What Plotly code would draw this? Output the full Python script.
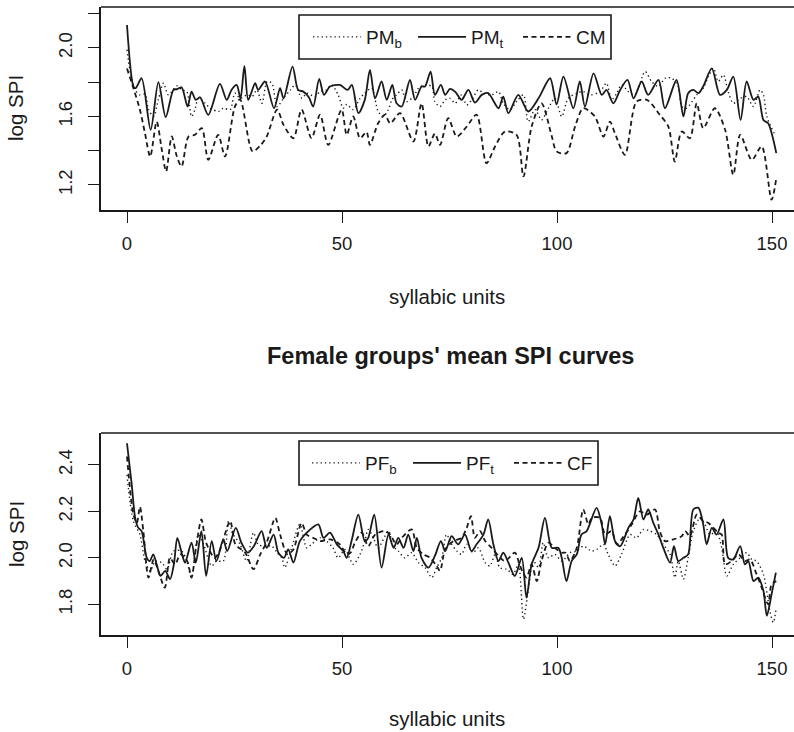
import plotly.graph_objects as go

# ---------------- Male panel (top) ----------------
pmt_x = [0, 1.5, 2.0, 3.4, 5.5, 7.3, 9.0, 10.8, 11.7, 12.7, 14.1, 15.0, 16.0, 17.0, 18.9, 21.6, 23.2, 24.3, 25.5, 26.4,
         27.3, 28.2, 29.8, 30.5, 32.1, 34.2, 35.6, 36.4, 38.5, 39.8, 41.0, 42.3, 43.3, 44.7, 45.8, 47.2, 49.5, 51.3, 52.3, 53.8,
         55.3, 56.5, 57.7, 59.2, 60.4, 61.7, 62.7, 63.9, 65.8, 67.0, 68.5, 69.3, 70.6, 71.6, 73.0, 74.0, 75.1, 76.3, 77.8, 79.4,
         80.9, 82.5, 84.0, 86.4, 87.5, 88.7, 91.0, 93.3, 95.7, 98.4, 99.9, 101.5, 103.8, 105.3, 106.5, 108.5, 110.4, 111.5, 113.1, 114.7,
         116.4, 117.8, 119.7, 121.2, 123.6, 125.1, 127.8, 129.4, 130.5, 131.7, 132.9, 134.0, 136.0, 137.9, 139.5, 141.0, 142.7, 144.1, 145.7, 146.8,
         148.0, 149.1, 151.0]
pmt_y = [2.134, 1.775, 1.765, 1.823, 1.522, 1.800, 1.596, 1.755, 1.760, 1.770, 1.658, 1.745, 1.697, 1.712, 1.609, 1.790, 1.697, 1.755, 1.784, 1.706,
         1.895, 1.697, 1.794, 1.755, 1.804, 1.648, 1.765, 1.706, 1.891, 1.755, 1.745, 1.712, 1.658, 1.819, 1.726, 1.775, 1.784, 1.755, 1.784, 1.619,
         1.697, 1.872, 1.706, 1.804, 1.697, 1.784, 1.677, 1.658, 1.813, 1.697, 1.775, 1.775, 1.862, 1.726, 1.784, 1.726, 1.761, 1.745, 1.697, 1.755,
         1.681, 1.726, 1.736, 1.648, 1.716, 1.619, 1.726, 1.629, 1.706, 1.823, 1.670, 1.833, 1.648, 1.804, 1.658, 1.852, 1.726, 1.755, 1.677, 1.755,
         1.813, 1.706, 1.804, 1.726, 1.813, 1.648, 1.813, 1.600, 1.736, 1.755, 1.736, 1.775, 1.881, 1.726, 1.755, 1.833, 1.580, 1.804, 1.697, 1.716,
         1.580, 1.560, 1.386]

cm_x = [0, 1.5, 3.0, 4.2, 5.4, 6.9, 8.1, 9.1, 10.4, 11.6, 12.7, 14.3, 15.8, 17.4, 18.9, 21.2, 22.8, 25.1, 26.3, 29.2,
        31.0, 32.5, 34.9, 36.4, 38.7, 40.6, 42.9, 44.9, 46.8, 49.9, 51.1, 52.6, 54.2, 55.7, 56.5, 58.4, 60.0, 61.2, 63.5, 66.6,
        68.5, 70.1, 71.6, 72.8, 74.7, 76.7, 79.0, 81.3, 83.6, 85.6, 87.9, 90.6, 92.2, 94.1, 96.4, 98.8, 99.9, 102.2, 104.2, 106.1,
        108.8, 110.8, 112.3, 113.5, 115.8, 118.5, 120.9, 123.9, 125.9, 127.4, 129.0, 130.9, 132.5, 134.0, 136.7, 139.1, 141.0, 142.6, 145.3, 147.6,
        149.9, 151.0]
cm_y = [1.880, 1.765, 1.640, 1.500, 1.366, 1.570, 1.405, 1.279, 1.483, 1.366, 1.308, 1.483, 1.493, 1.532, 1.347, 1.493, 1.366, 1.658, 1.700, 1.396,
        1.430, 1.483, 1.640, 1.551, 1.473, 1.640, 1.473, 1.610, 1.434, 1.640, 1.493, 1.600, 1.473, 1.510, 1.434, 1.560, 1.610, 1.560, 1.619, 1.454,
        1.677, 1.425, 1.500, 1.434, 1.590, 1.483, 1.541, 1.610, 1.327, 1.425, 1.512, 1.493, 1.250, 1.541, 1.677, 1.483, 1.396, 1.386, 1.541, 1.648,
        1.600, 1.483, 1.570, 1.500, 1.376, 1.687, 1.697, 1.610, 1.541, 1.337, 1.512, 1.473, 1.677, 1.532, 1.648, 1.522, 1.259, 1.493, 1.347, 1.425,
        1.114, 1.240]

pmb_x = [0, 0.7, 1.9, 3.0, 4.2, 5.0, 6.2, 7.3, 8.5, 9.6, 11.6, 12.7, 13.9, 15.0, 15.8, 16.6, 18.2, 19.3, 21.3, 22.4,
         24.0, 25.1, 26.3, 28.0, 29.1, 30.2, 31.4, 32.6, 33.7, 34.9, 36.4, 38.0, 39.1, 40.7, 41.8, 43.7, 44.9, 46.4, 47.6, 49.1,
         50.3, 51.1, 52.6, 54.2, 55.3, 56.9, 58.4, 59.6, 60.8, 61.6, 62.7, 63.9, 65.0, 66.6, 67.8, 69.3, 70.9, 71.6, 72.8, 74.0,
         75.1, 76.3, 77.8, 79.0, 80.2, 81.7, 82.9, 84.8, 86.4, 87.5, 89.1, 90.6, 92.2, 93.3, 94.9, 96.4, 98.0, 99.5, 101.1, 102.6,
         104.6, 106.1, 107.7, 110.0, 111.5, 112.7, 113.9, 115.0, 116.6, 118.1, 120.5, 122.0, 123.6, 125.1, 126.7, 128.2, 129.0, 130.1, 132.5, 134.0,
         135.2, 136.4, 137.5, 138.7, 139.8, 141.0, 142.6, 144.1, 145.7, 147.2, 148.0, 148.8, 150.5]
pmb_y = [1.990, 1.870, 1.755, 1.726, 1.730, 1.640, 1.600, 1.700, 1.794, 1.726, 1.778, 1.755, 1.745, 1.600, 1.640, 1.706, 1.677, 1.648, 1.630, 1.648,
         1.640, 1.736, 1.706, 1.726, 1.716, 1.755, 1.677, 1.804, 1.794, 1.658, 1.706, 1.755, 1.784, 1.706, 1.736, 1.716, 1.745, 1.755, 1.784, 1.726,
         1.648, 1.670, 1.640, 1.706, 1.736, 1.765, 1.629, 1.600, 1.640, 1.697, 1.726, 1.755, 1.687, 1.716, 1.765, 1.784, 1.775, 1.687, 1.658, 1.697,
         1.706, 1.677, 1.726, 1.667, 1.697, 1.755, 1.736, 1.726, 1.745, 1.677, 1.640, 1.687, 1.726, 1.570, 1.640, 1.580, 1.648, 1.706, 1.600, 1.706,
         1.736, 1.745, 1.726, 1.745, 1.794, 1.697, 1.736, 1.784, 1.745, 1.726, 1.862, 1.804, 1.775, 1.823, 1.823, 1.775, 1.658, 1.648, 1.726, 1.765,
         1.833, 1.881, 1.804, 1.843, 1.745, 1.677, 1.706, 1.716, 1.658, 1.755, 1.726, 1.600, 1.502]

# ---------------- Female panel (bottom) ----------------
pft_x = [0, 1.1, 1.9, 2.6, 3.4, 4.6, 5.3, 6.1, 6.9, 7.8, 8.9, 10.0, 10.9, 11.7, 12.8, 13.5, 15.0, 16.0, 17.3, 18.4,
         19.7, 20.8, 22.4, 23.3, 25.3, 26.6, 28.1, 29.5, 31.3, 32.5, 34.1, 35.2, 36.5, 37.5, 38.7, 40.2, 42.2, 44.5, 45.7, 47.2,
         48.8, 50.3, 51.1, 52.3, 53.8, 55.3, 56.1, 57.5, 59.2, 60.8, 62.0, 63.1, 64.3, 65.4, 66.6, 67.4, 68.5, 70.1, 71.6, 73.0,
         74.0, 75.5, 77.0, 78.6, 80.1, 81.3, 82.9, 84.0, 85.2, 86.4, 87.5, 88.7, 90.2, 91.8, 92.9, 94.1, 95.7, 97.2, 98.8, 100.3,
         101.1, 102.2, 103.4, 104.6, 105.7, 106.9, 109.2, 110.4, 111.2, 112.3, 113.5, 114.7, 116.6, 117.8, 118.9, 120.1, 121.2, 122.4, 123.6, 124.7,
         126.3, 127.2, 128.2, 129.4, 130.5, 131.7, 132.9, 134.0, 134.8, 136.0, 137.1, 138.7, 139.8, 141.0, 142.6, 143.7, 144.5, 145.7, 146.8, 148.0,
         148.8, 149.9, 150.9]
pft_y = [2.493, 2.315, 2.172, 2.130, 2.115, 2.000, 1.986, 2.015, 1.972, 1.922, 1.944, 1.908, 1.972, 2.086, 2.015, 1.979, 2.065, 1.979, 2.115, 1.922,
         2.072, 1.986, 2.079, 2.029, 2.129, 2.065, 2.022, 2.050, 2.115, 2.043, 2.100, 2.022, 2.000, 2.036, 1.979, 2.072, 2.115, 2.144, 2.086, 2.108,
         2.058, 2.029, 2.000, 2.079, 2.186, 2.072, 2.086, 2.186, 1.958, 2.100, 2.043, 2.086, 2.043, 2.100, 2.029, 2.086, 2.000, 1.958, 2.008, 2.072,
         2.029, 2.093, 2.058, 2.100, 2.029, 2.058, 2.100, 2.165, 2.058, 1.986, 2.022, 1.979, 1.922, 2.000, 1.829, 1.972, 2.043, 2.172, 2.043, 2.043,
         2.000, 1.900, 1.986, 2.015, 2.100, 2.115, 2.215, 2.144, 2.058, 2.179, 2.072, 2.050, 2.129, 2.165, 2.258, 2.165, 2.208, 2.150, 2.100, 2.044,
         1.979, 2.050, 1.986, 2.000, 2.015, 2.208, 2.215, 2.144, 2.058, 2.129, 2.100, 2.165, 2.000, 1.993, 2.050, 1.972, 1.986, 1.900, 1.915, 1.858,
         1.751, 1.843, 1.936]

cf_x = [0, 1.5, 2.3, 3.0, 3.8, 5.0, 6.2, 7.3, 8.8, 10.0, 11.2, 12.4, 14.0, 15.0, 16.0, 17.3, 18.4, 20.4, 21.5, 24.0,
        25.2, 27.5, 29.4, 31.0, 32.6, 34.5, 35.6, 37.3, 38.7, 40.6, 41.8, 43.3, 44.9, 47.2, 49.5, 51.1, 52.0, 53.0, 54.6, 56.1,
        57.7, 60.0, 61.2, 62.7, 63.9, 66.2, 67.4, 68.9, 70.5, 72.0, 72.8, 74.0, 75.9, 77.8, 79.0, 80.0, 80.9, 82.1, 83.3, 84.8,
        86.4, 87.9, 90.2, 91.4, 92.9, 94.1, 95.3, 96.4, 98.0, 99.5, 101.1, 102.0, 103.0, 104.6, 106.1, 107.3, 108.1, 110.0, 111.2, 112.7,
        113.9, 115.8, 117.4, 119.3, 120.9, 122.8, 123.9, 125.1, 127.0, 129.0, 129.8, 130.9, 132.5, 134.0, 135.2, 136.4, 137.5, 138.3, 139.1, 140.6,
        142.2, 143.7, 144.9, 146.4, 147.6, 149.1, 149.9, 151.0]
cf_y = [2.436, 2.186, 2.150, 2.220, 2.115, 1.915, 1.993, 1.943, 1.872, 2.000, 1.972, 2.015, 1.986, 1.915, 2.036, 2.165, 2.065, 2.000, 2.029, 2.158,
        2.058, 2.022, 1.951, 2.015, 2.072, 2.172, 2.100, 2.015, 2.036, 2.150, 2.100, 2.086, 2.072, 2.079, 2.058, 2.015, 2.022, 2.065, 2.108, 2.050,
        2.100, 2.115, 2.100, 2.058, 2.086, 2.122, 2.043, 2.015, 2.000, 1.965, 1.944, 2.036, 2.072, 2.086, 2.129, 2.179, 2.086, 2.115, 2.072, 2.043,
        2.008, 1.986, 2.022, 1.965, 1.915, 1.972, 1.900, 1.986, 2.065, 2.043, 2.022, 2.022, 1.986, 2.043, 2.208, 2.144, 2.172, 2.172, 2.100, 2.115,
        2.058, 2.100, 2.144, 2.200, 2.186, 2.208, 2.115, 2.072, 2.079, 2.093, 2.115, 2.093, 2.186, 2.158, 2.150, 2.129, 2.108, 2.100, 1.972, 1.986,
        2.015, 1.986, 1.993, 1.930, 1.872, 1.800, 1.886, 1.900]

pfb_x = [0, 1.5, 3.0, 4.2, 5.4, 6.6, 8.1, 9.3, 10.8, 12.7, 13.9, 15.0, 16.6, 17.8, 19.7, 20.8, 22.4, 23.6, 24.7, 26.3,
         27.8, 29.4, 30.5, 31.8, 33.7, 34.9, 36.0, 36.7, 38.3, 40.2, 41.8, 42.9, 44.9, 46.4, 47.9, 49.1, 50.7, 52.6, 54.2, 55.3,
         56.1, 57.3, 58.4, 60.8, 61.9, 63.1, 64.6, 66.2, 67.8, 69.3, 70.9, 72.0, 73.2, 74.3, 75.5, 76.7, 77.8, 79.0, 80.5, 81.7,
         83.3, 84.4, 85.6, 86.7, 88.3, 89.8, 91.0, 92.2, 93.3, 94.5, 95.7, 96.8, 98.0, 99.5, 101.1, 102.0, 103.0, 104.6, 106.1, 108.1,
         109.2, 110.8, 111.9, 113.5, 115.0, 117.0, 118.5, 120.1, 121.6, 123.2, 124.7, 126.3, 127.4, 128.2, 129.4, 130.5, 131.7, 133.3, 134.4, 135.6,
         137.1, 138.3, 139.5, 141.0, 142.6, 144.1, 145.3, 146.4, 148.0, 149.5, 150.3, 151.0]
pfb_y = [2.357, 2.157, 2.100, 1.986, 1.943, 1.986, 1.979, 1.951, 2.029, 2.029, 1.986, 1.915, 2.100, 2.058, 1.965, 1.986, 1.986, 2.158, 2.100, 2.058,
         1.986, 2.108, 2.058, 2.050, 2.050, 2.022, 2.000, 1.958, 2.043, 2.144, 2.043, 2.058, 2.086, 2.072, 2.043, 2.000, 2.036, 1.972, 2.015, 2.072,
         2.122, 2.086, 2.043, 2.115, 2.050, 2.029, 2.000, 2.022, 1.979, 1.958, 1.915, 1.958, 2.000, 2.100, 2.058, 2.029, 2.015, 2.058, 2.022, 2.043,
         1.979, 1.965, 2.015, 1.958, 1.951, 1.929, 1.972, 1.736, 1.858, 1.986, 1.958, 2.065, 2.000, 2.015, 1.986, 2.000, 2.022, 2.029, 2.050, 2.029,
         2.036, 2.058, 2.015, 1.965, 2.015, 2.100, 2.086, 2.122, 2.115, 2.100, 2.058, 2.015, 1.915, 1.986, 1.908, 2.000, 2.115, 2.172, 2.144, 2.100,
         2.115, 2.043, 1.922, 1.972, 2.000, 2.022, 1.993, 1.986, 1.929, 1.772, 1.722, 1.786]

x_ticks = [0, 50, 100, 150]
top_y_ticks = [1.2, 1.6, 2.0]
top_y_labels = ["1.2", "1.6", "2.0"]
top_y_minor = [1.4, 1.8, 2.2]
bot_y_ticks = [1.8, 2.0, 2.2, 2.4]
bot_y_labels = ["1.8", "2.0", "2.2", "2.4"]

W, H = 794, 732
FONT = "Liberation Sans, Arial, Helvetica, sans-serif"
INK = "#1a1a1a"

fig = go.Figure()

def add(x, y, name, dash, width, xa, ya, legend):
    fig.add_trace(go.Scatter(x=x, y=y, mode="lines", name=name,
                             line=dict(color=INK, width=width, dash=dash, shape="spline", smoothing=0.8),
                             xaxis=xa, yaxis=ya, legend=legend))

DOT = "1.3px,3px"
DASH = "5px,3.5px"
add(pmb_x, pmb_y, "PM<sub>b</sub>", DOT, 1.4, "x", "y", "legend")
add(pmt_x, pmt_y, "PM<sub>t</sub>", "solid", 1.8, "x", "y", "legend")
add(cm_x, cm_y, "CM", DASH, 1.8, "x", "y", "legend")
add(pfb_x, pfb_y, "PF<sub>b</sub>", DOT, 1.4, "x2", "y2", "legend2")
add(pft_x, pft_y, "PF<sub>t</sub>", "solid", 1.8, "x2", "y2", "legend2")
add(cf_x, cf_y, "CF", DASH, 1.8, "x2", "y2", "legend2")

px_per_unit = 4.3
x0_px = 127
left_px = 101
xr = [(left_px - x0_px) / px_per_unit, (W - x0_px) / px_per_unit]

def pdom(top_px, bot_px):
    return [1 - bot_px / H, 1 - top_px / H]

axis_common = dict(showline=True, linecolor=INK, linewidth=1.6, ticks="outside", ticklen=11,
                   tickwidth=1.4, tickcolor=INK, showgrid=False, zeroline=False,
                   ticklabeloverflow="allow", automargin=False,
                   tickfont=dict(family=FONT, size=18.5, color=INK))

fig.update_layout(
    width=W, height=H, margin=dict(l=0, r=0, t=0, b=0, autoexpand=False),
    paper_bgcolor="white", plot_bgcolor="white",
    xaxis=dict(domain=[left_px / W, 1], range=xr, tickvals=x_ticks, anchor="y",
               ticklabelstandoff=5, **axis_common),
    yaxis=dict(domain=pdom(7, 210), range=[1.054, 2.239], tickvals=top_y_ticks, ticktext=top_y_labels,
               minor=dict(tickmode="array", tickvals=top_y_minor, ticks="outside", ticklen=11,
                          tickwidth=1.4, tickcolor=INK, showgrid=False),
               tickangle=-90, anchor="x", ticklabelstandoff=9, **axis_common),
    xaxis2=dict(domain=[left_px / W, 1], range=xr, tickvals=x_ticks, anchor="y2",
                ticklabelstandoff=5, **axis_common),
    yaxis2=dict(domain=pdom(433, 635), range=[1.668, 2.537], tickvals=bot_y_ticks, ticktext=bot_y_labels,
                tickangle=-90, anchor="x2", ticklabelstandoff=9, **axis_common),
    legend=dict(orientation="h", x=308 / W, y=1 - 37 / H, xanchor="left", yanchor="middle",
                borderwidth=0, bgcolor="rgba(0,0,0,0)",
                font=dict(family=FONT, size=19, color=INK), entrywidth=42, itemwidth=48,
                tracegroupgap=0),
    legend2=dict(orientation="h", x=307 / W, y=1 - 463 / H, xanchor="left", yanchor="middle",
                 borderwidth=0, bgcolor="rgba(0,0,0,0)",
                 font=dict(family=FONT, size=19, color=INK), entrywidth=38, itemwidth=48,
                 tracegroupgap=0),
    showlegend=True,
)

# top border lines of the boxes
for yref, xref in (("y domain", "x domain"), ("y2 domain", "x2 domain")):
    fig.add_shape(type="line", xref=xref, yref=yref, x0=0, x1=1, y0=1, y1=1,
                  line=dict(color=INK, width=1.6))

# legend frames
for (lx0, ly0, lx1, ly1) in ((299, 15, 611, 59), (299, 441, 598, 485)):
    fig.add_shape(type="rect", xref="paper", yref="paper",
                  x0=lx0 / W, x1=lx1 / W, y0=1 - ly1 / H, y1=1 - ly0 / H,
                  line=dict(color=INK, width=1.6), fillcolor="white", layer="above")

def ann(text, xpx, ypx, size=20.5, angle=0, bold=False):
    fig.add_annotation(text=f"<b>{text}</b>" if bold else text, xref="paper", yref="paper",
                       x=xpx / W, y=1 - ypx / H, showarrow=False, textangle=angle,
                       xanchor="center", yanchor="middle",
                       font=dict(family=FONT, size=size, color=INK))

ann("log SPI", 16, 108, angle=-90)
ann("log SPI", 16, 534, angle=-90)
ann("syllabic units", 447, 296)
ann("syllabic units", 447, 718)
ann("Female groups' mean SPI curves", 450, 356, size=23.5, bold=True)

fig.write_html("out.html", config={"displayModeBar": False},
               post_script="document.body.style.margin='0';document.body.style.padding='0';"
                           "document.body.style.overflow='hidden';")
